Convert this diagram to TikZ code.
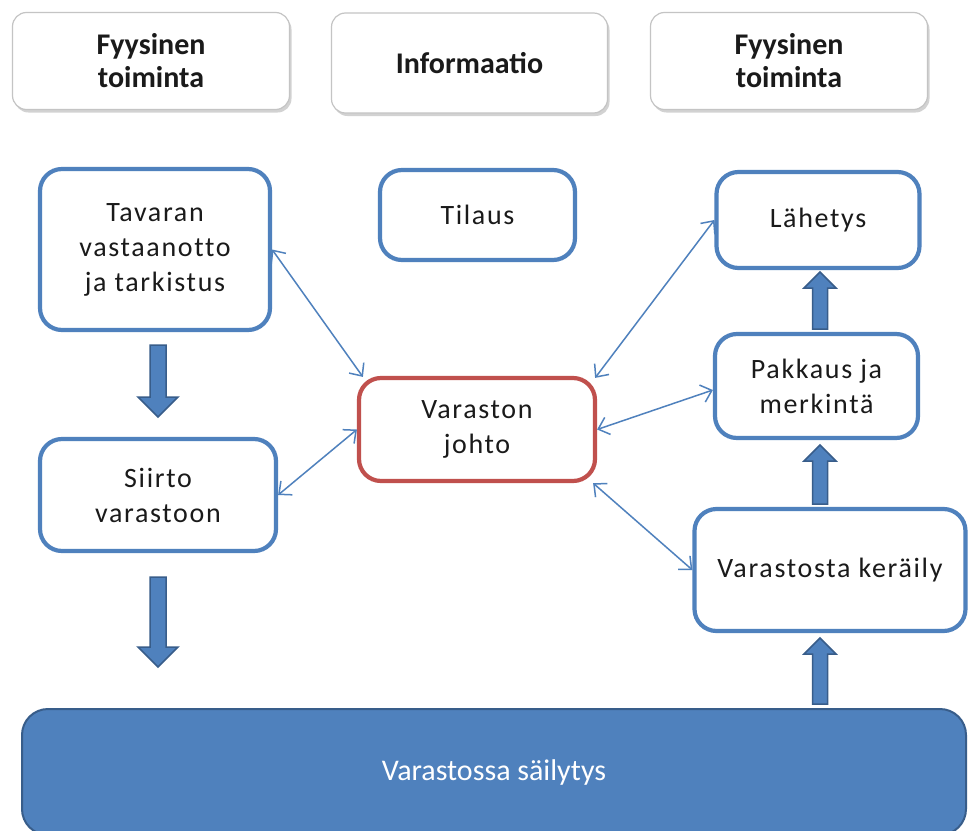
\documentclass[tikz,border=0pt]{standalone}
\usepackage{fontspec}
\setmainfont{Carlito}
\newfontfamily\boxfont{Carlito}[LetterSpace=6,Ligatures=NoCommon]
\usetikzlibrary{arrows.meta,calc,shadows}
\definecolor{boxblue}{HTML}{4F81BD}
\definecolor{boxred}{HTML}{C0504D}
\definecolor{darkblue}{HTML}{385D8A}
\definecolor{hdrgray}{HTML}{C4C4C4}
\definecolor{txt}{HTML}{1A1A1A}
\newcommand\vblock[5]{%
  \filldraw[blockarr] let \p1=(#1), \p2=(#2) in
  (\x1-#3,\y1) -- (\x1-#3,\y2+#5) -- (\x1-#4,\y2+#5) -- (\x1,\y2) --
  (\x1+#4,\y2+#5) -- (\x1+#3,\y2+#5) -- (\x1+#3,\y1) -- cycle;}
\begin{document}
\begin{tikzpicture}[x=1pt,y=-1pt,
  hdr/.style={draw=hdrgray, line width=1.2pt, rounded corners=14pt, fill=white,
    align=center, text=txt, inner sep=0pt,
    font=\fontsize{30}{33}\selectfont\bfseries,
    drop shadow={shadow xshift=2pt, shadow yshift=-3pt, fill=black!35, opacity=0.5}},
  box/.style={draw=boxblue, line width=4.2pt, rounded corners=22pt, fill=white,
    align=center, text=txt, inner sep=0pt, font=\boxfont\fontsize{28}{35}\selectfont},
  redbox/.style={box, draw=boxred},
  bigbox/.style={draw=darkblue, line width=2pt, rounded corners=26pt, fill=boxblue,
    align=center, text=white, inner sep=0pt, font=\fontsize{30}{35}\selectfont},
  thin/.style={draw=boxblue, line width=1.5pt,
    {Straight Barb[length=10pt,width=18pt]}-{Straight Barb[length=10pt,width=18pt]}},
  blockarr/.style={fill=boxblue, draw=darkblue, line width=1.5pt, line join=miter}
]
\clip (0,0) rectangle (969,830);
\fill[white] (0,0) rectangle (969,830);

% header boxes
\node[hdr, minimum width=277pt, minimum height=97pt] (h1) at (151,61) {Fyysinen\\toiminta};
\node[hdr, minimum width=276pt, minimum height=100pt] (h2) at (469.5,63) {Informaatio};
\node[hdr, minimum width=277pt, minimum height=97pt] (h3) at (789,61) {Fyysinen\\toiminta};

% process boxes
\node[box, minimum width=230pt, minimum height=161pt] (tav) at (155,249.5) {Tavaran\\vastaanotto\\ja tarkistus};
\node[box, minimum width=195pt, minimum height=90pt] (til) at (477.5,215) {Tilaus};
\node[box, minimum width=203pt, minimum height=96pt] (lah) at (818,220) {Lähetys};
\node[box, minimum width=236pt, minimum height=112pt] (sii) at (158,495) {Siirto\\varastoon};
\node[redbox, minimum width=236pt, minimum height=103pt] (vj) at (477,429.5) {Varaston\\johto};
\node[box, minimum width=203pt, minimum height=104pt] (pak) at (816.5,386) {Pakkaus ja\\merkintä};
\node[box, minimum width=271pt, minimum height=122pt] (ker) at (830,570) {Varastosta keräily};
\node[bigbox, minimum width=944pt, minimum height=126pt] (bot) at (494,772) {Varastossa säilytys};

% thin double arrows
\draw[thin] (tav.east) -- ($(vj.north west)+(6,1)$);
\draw[thin] (sii.east) -- (vj.west);
\draw[thin] (lah.west) -- ($(vj.north east)+(-2,2)$);
\draw[thin] ($(pak.west)+(0,4)$) -- (vj.east);
\draw[thin] (ker.west) -- ($(vj.south east)+(-4,0)$);

% block arrows
\coordinate (d1s) at (158,345); \coordinate (d1t) at (158,417);
\coordinate (d2s) at (158,577); \coordinate (d2t) at (158,667);
\coordinate (u1s) at (820,329); \coordinate (u1t) at (820,272);
\coordinate (u2s) at (820,504); \coordinate (u2t) at (820,445);
\coordinate (u3s) at (820,704); \coordinate (u3t) at (820,638);
\vblock{d1s}{d1t}{8pt}{20pt}{20pt}
\vblock{d2s}{d2t}{8pt}{20pt}{20pt}
\vblock{u1s}{u1t}{7.5pt}{16pt}{-16pt}
\vblock{u2s}{u2t}{7.5pt}{16pt}{-16pt}
\vblock{u3s}{u3t}{7.5pt}{16pt}{-16pt}
\end{tikzpicture}
\end{document}
